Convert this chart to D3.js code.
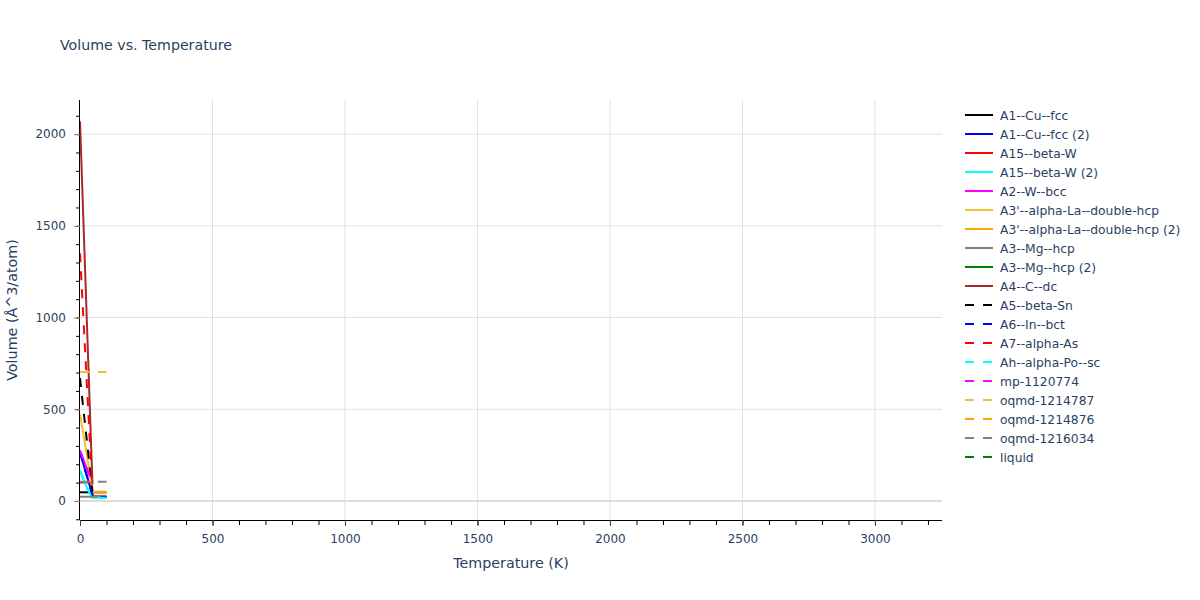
<!DOCTYPE html>
<html>
<head>
<meta charset="utf-8">
<script src="https://cdn.jsdelivr.net/npm/d3@7"></script>
<style>
  body { margin: 0; background: #fff; }
  svg { font-family: "DejaVu Sans", sans-serif; }
</style>
</head>
<body>
<svg id="chart" width="1200" height="600"></svg>
<script>
// ---- data ----
const seriesNames = [
  "A1--Cu--fcc", "A1--Cu--fcc (2)", "A15--beta-W", "A15--beta-W (2)", "A2--W--bcc",
  "A3'--alpha-La--double-hcp", "A3'--alpha-La--double-hcp (2)", "A3--Mg--hcp", "A3--Mg--hcp (2)",
  "A4--C--dc", "A5--beta-Sn", "A6--In--bct", "A7--alpha-As", "Ah--alpha-Po--sc",
  "mp-1120774", "oqmd-1214787", "oqmd-1214876", "oqmd-1216034", "liquid"
];
const seriesColors = [
  "#000000", "#0000ff", "#ff0000", "#00ffff", "#ff00ff",
  "#eec032", "#ffa500", "#808080", "#008000",
  "#a52a2a", "#000000", "#0000ff", "#ff0000", "#00ffff",
  "#ff00ff", "#eec032", "#ffa500", "#808080", "#008000"
];
const seriesDashed = [
  false, false, false, false, false, false, false, false, false, false,
  true, true, true, true, true, true, true, true, true
];
// temperatures (K) and volumes (Å^3/atom) per series
const temps = [
  [0, 100],
  [0, 49, 100],
  [0, 40, 48, 100],
  [0, 30, 45, 100],
  [0, 45],
  [0, 49, 100],
  [49, 100],
  [0, 100],
  [],
  [0, 47],
  [0, 47],
  [0, 49, 100],
  [0, 45],
  [0, 30, 45, 100],
  [0, 45],
  [0, 100],
  [49, 100],
  [0, 100],
  []
];
const volumes = [
  [47, 47],
  [265, 22, 22],
  [100, 100, 25, 25],
  [165, 60, 17, 17],
  [275, 105],
  [474, 49, 49],
  [50, 50],
  [23, 23],
  [],
  [2070, 90],
  [670, 50],
  [265, 22, 22],
  [1350, 110],
  [165, 60, 17, 17],
  [275, 105],
  [703, 703],
  [50, 50],
  [105, 105],
  []
];
const xTicks = [0, 500, 1000, 1500, 2000, 2500, 3000];
const yTicks = [0, 500, 1000, 1500, 2000];

// ---- layout ----
const svg = d3.select("#chart");
const L = 80, R = 942, T = 100, B = 520;
const x = d3.scaleLinear().domain([0, 3253]).range([L, R]);
const y = d3.scaleLinear().domain([-104, 2186]).range([B, T]);
const textColor = "#2a3f5f";

// gridlines
svg.append("g").selectAll("line").data(xTicks.filter(d => d > 0)).join("line")
  .attr("x1", d => x(d)).attr("x2", d => x(d)).attr("y1", T).attr("y2", B)
  .attr("stroke", "#e0e0e0").attr("stroke-width", 1);
svg.append("g").selectAll("line").data(yTicks.filter(d => d !== 0)).join("line")
  .attr("x1", L).attr("x2", R).attr("y1", d => y(d)).attr("y2", d => y(d))
  .attr("stroke", "#e0e0e0").attr("stroke-width", 1);
// zero line
svg.append("line").attr("x1", L).attr("x2", R).attr("y1", y(0)).attr("y2", y(0))
  .attr("stroke", "#dcdcdc").attr("stroke-width", 2);

// clip
svg.append("clipPath").attr("id", "clip").append("rect")
  .attr("x", L).attr("y", T).attr("width", R - L).attr("height", B - T);

// lines
const line = d3.line().x(d => x(d[0])).y(d => y(d[1]));
const gLines = svg.append("g").attr("clip-path", "url(#clip)");
seriesNames.forEach((name, i) => {
  const pts = temps[i].map((t, j) => [t, volumes[i][j]]);
  if (pts.length === 0) return;
  gLines.append("path").datum(pts)
    .attr("d", line).attr("fill", "none")
    .attr("stroke", seriesColors[i]).attr("stroke-width", 2)
    .attr("stroke-dasharray", seriesDashed[i] ? "9,9" : null)
    .attr("stroke-linejoin", "round");
});

// axes
const xMinor = d3.range(0, 3253, 100);
const yMinor = d3.range(-100, 2186, 100);
const xAxisG = svg.append("g").attr("transform", `translate(0,${B})`);
xAxisG.call(d3.axisBottom(x).tickValues(xMinor).tickSize(5).tickFormat(""))
  .call(g => g.select(".domain").remove());
xAxisG.selectAll(".tick line").attr("stroke", "#000");
const xAxisMajor = svg.append("g").attr("transform", `translate(0,${B})`)
  .call(d3.axisBottom(x).tickValues(xTicks).tickSize(6).tickPadding(8).tickFormat(d3.format("d")));
xAxisMajor.select(".domain").attr("stroke", "#000").attr("d", `M${L},0.5H${R}`);
xAxisMajor.selectAll(".tick line").attr("stroke", "#444");
xAxisMajor.selectAll("text").attr("fill", textColor).attr("font-size", 12)
  .attr("font-family", "'DejaVu Sans', sans-serif");

const yAxisG = svg.append("g").attr("transform", `translate(${L},0)`);
yAxisG.call(d3.axisLeft(y).tickValues(yMinor).tickSize(4).tickFormat(""))
  .call(g => g.select(".domain").remove());
yAxisG.selectAll(".tick line").attr("stroke", "#000");
const yAxisMajor = svg.append("g").attr("transform", `translate(${L},0)`)
  .call(d3.axisLeft(y).tickValues(yTicks).tickSize(6).tickPadding(8).tickFormat(d3.format("d")));
yAxisMajor.select(".domain").attr("stroke", "#000").attr("d", `M-0.5,${T}V${B}`);
yAxisMajor.selectAll(".tick line").attr("stroke", "#888");
yAxisMajor.selectAll("text").attr("fill", textColor).attr("font-size", 12)
  .attr("font-family", "'DejaVu Sans', sans-serif");

// title and axis labels
svg.append("text").attr("x", 60).attr("y", 50).text("Volume vs. Temperature")
  .attr("fill", textColor).attr("font-size", 14.2);
svg.append("text").attr("x", (L + R) / 2).attr("y", 568).attr("text-anchor", "middle")
  .text("Temperature (K)").attr("fill", textColor).attr("font-size", 14.3);
svg.append("text").attr("transform", `translate(17,${(T + B) / 2}) rotate(-90)`)
  .attr("text-anchor", "middle").text("Volume (Å^3/atom)")
  .attr("fill", textColor).attr("font-size", 14.3);

// legend
const lg = svg.append("g");
seriesNames.forEach((name, i) => {
  const yy = 115 + i * 19;
  lg.append("line").attr("x1", 965).attr("x2", 993).attr("y1", yy).attr("y2", yy)
    .attr("stroke", seriesColors[i]).attr("stroke-width", 2)
    .attr("stroke-dasharray", seriesDashed[i] ? "9,9" : null);
  lg.append("text").attr("x", 1000).attr("y", yy + 4.5).text(name)
    .attr("fill", textColor).attr("font-size", 12.3);
});
</script>
</body>
</html>
